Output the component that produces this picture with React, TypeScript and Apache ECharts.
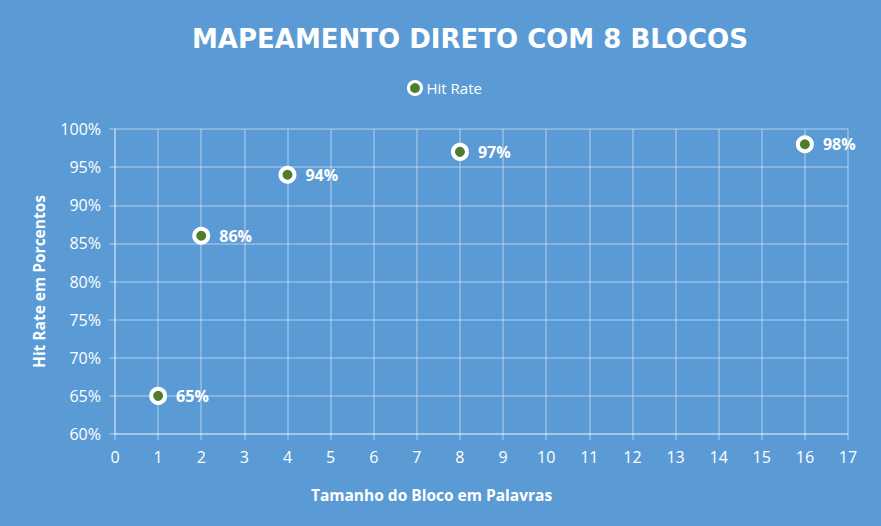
import React, { useEffect, useRef } from "react";
import * as echarts from "echarts";

const blockSizes = [1, 2, 4, 8, 16];
const hitRates = [65, 86, 94, 97, 98];
const seriesName = "Hit Rate";
const titleText = "MAPEAMENTO DIRETO COM 8 BLOCOS";
const xAxisName = "Tamanho do Bloco em Palavras";
const yAxisName = "Hit Rate em Porcentos";

const FONT = "'Open Sans', 'Liberation Sans', sans-serif";
const gridColor = "rgba(255,255,255,0.35)";

export default function App() {
  const ref = useRef<HTMLDivElement>(null);
  useEffect(() => {
    if (!ref.current) return;
    const chart = echarts.init(ref.current, null, { renderer: "svg" });
    chart.setOption({
      animation: false,
      backgroundColor: "#5B9BD5",
      title: {
        text: titleText,
        left: 187,
        top: 21,
        textStyle: {
          color: "#ffffff",
          fontFamily: "'DejaVu Sans', sans-serif",
          fontWeight: "bold",
          fontSize: 26,
        },
      },
      legend: {
        data: [seriesName],
        left: 402,
        top: 75,
        itemWidth: 13,
        itemHeight: 13,
        itemGap: 4,
        itemStyle: { color: "#4E7D2B", borderColor: "#ffffff", borderWidth: 3 },
        textStyle: { color: "#ffffff", fontFamily: FONT, fontSize: 15 },
      },
      grid: { left: 115, right: 33, top: 129, bottom: 92, containLabel: false },
      xAxis: {
        type: "value",
        min: 0,
        max: 17,
        interval: 1,
        name: xAxisName,
        nameLocation: "middle",
        nameGap: 53,
        nameTextStyle: { color: "#ffffff", fontFamily: FONT, fontWeight: "bold", fontSize: 15.5, padding: [0, 100, 0, 0] },
        axisLine: { show: true, lineStyle: { color: gridColor, width: 1.5 } },
        axisTick: { show: true, inside: false, length: 6, lineStyle: { color: gridColor, width: 1.5 } },
        axisLabel: { color: "#ffffff", fontFamily: FONT, fontSize: 16, margin: 15 },
        splitLine: { show: true, lineStyle: { color: gridColor, width: 1.5 } },
      },
      yAxis: {
        type: "value",
        min: 60,
        max: 100,
        interval: 5,
        name: yAxisName,
        nameLocation: "middle",
        nameGap: 68,
        nameTextStyle: { color: "#ffffff", fontFamily: FONT, fontWeight: "bold", fontSize: 15.5 },
        axisLine: { show: true, lineStyle: { color: gridColor, width: 1.5 } },
        axisTick: { show: true, inside: false, length: 6, lineStyle: { color: gridColor, width: 1.5 } },
        axisLabel: {
          color: "#ffffff",
          fontFamily: FONT,
          fontSize: 16,
          margin: 14,
          formatter: (v: number) => v + "%",
        },
        splitLine: { show: true, lineStyle: { color: gridColor, width: 1.5 } },
      },
      series: [
        {
          name: seriesName,
          type: "scatter",
          data: blockSizes.map((x, i) => [x, hitRates[i]]),
          symbol: "circle",
          symbolSize: 14,
          itemStyle: { color: "#4E7D2B", borderColor: "#ffffff", borderWidth: 4, opacity: 1 },
          label: {
            show: true,
            position: "right",
            distance: 9,
            color: "#ffffff",
            fontFamily: FONT,
            fontWeight: "bold",
            fontSize: 16,
            formatter: (p: any) => p.value[1] + "%",
          },
        },
      ],
    });
    return () => chart.dispose();
  }, []);
  return <div ref={ref} style={{ width: 881, height: 526, position: "absolute", left: 0, top: 0 }} />;
}
